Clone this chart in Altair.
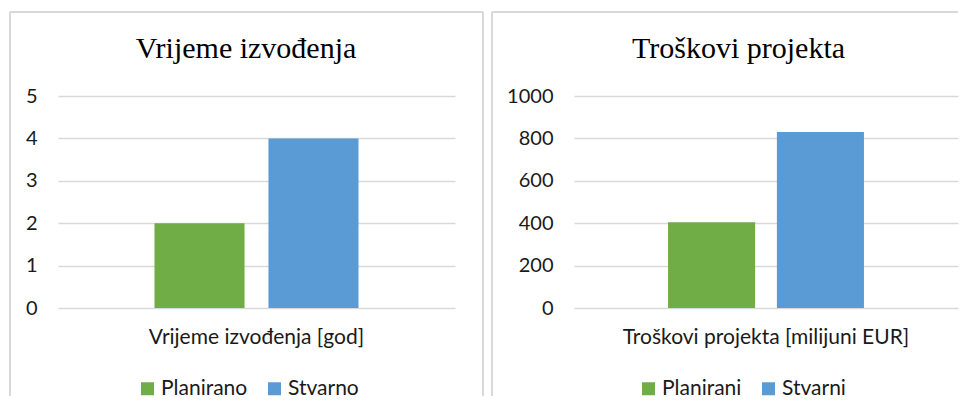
import altair as alt
import pandas as pd

# ---- data ----
left_title = "Vrijeme izvođenja"
left_category = "Vrijeme izvođenja [god]"
left_series = ["Planirano", "Stvarno"]
left_values = [2, 4]
left_ticks = [0, 1, 2, 3, 4, 5]

right_title = "Troškovi projekta"
right_category = "Troškovi projekta [milijuni EUR]"
right_series = ["Planirani", "Stvarni"]
right_values = [405, 830]
right_ticks = [0, 200, 400, 600, 800, 1000]

colors = ["#70ad47", "#5b9bd5"]

SANS = "Lato"
SERIF = "Liberation Serif"
TXT = "#1a1a1a"
GRID = "#d9d9d9"
H = 212
FS = 20


def panel(title, category, series, values, ticks, w, po, pi, legend_x,
          title_x, border_left, border_right, draw_right_side):
    df = pd.DataFrame({"cat": [category] * len(series), "series": series, "value": values})
    bars = alt.Chart(df).mark_bar().encode(
        x=alt.X("cat:N", title=None,
                scale=alt.Scale(paddingInner=0, paddingOuter=po),
                axis=alt.Axis(labelAngle=0, domain=False, ticks=False, grid=False,
                              labelFont=SANS, labelFontSize=21, labelColor=TXT,
                              labelLimit=0, labelPadding=18)),
        xOffset=alt.XOffset("series:N", sort=series,
                            scale=alt.Scale(paddingInner=pi, paddingOuter=0)),
        y=alt.Y("value:Q", title=None,
                scale=alt.Scale(domain=[ticks[0], ticks[-1]], nice=False),
                axis=alt.Axis(values=ticks, format="d", domain=False, ticks=False, grid=True,
                              gridColor=GRID, gridWidth=1.5,
                              labelFont=SANS, labelFontSize=FS, labelColor=TXT,
                              labelPadding=21)),
        color=alt.Color("series:N", sort=series,
                        scale=alt.Scale(domain=series, range=colors),
                        legend=alt.Legend(orient="none", legendX=legend_x, legendY=282,
                                          direction="horizontal", title=None,
                                          symbolType="square", symbolSize=169,
                                          symbolStrokeWidth=0, labelFont=SANS,
                                          labelFontSize=21, labelColor=TXT,
                                          labelOffset=3, columnPadding=16)),
    )
    deco = pd.DataFrame({"k": [0]})
    ttl = alt.Chart(pd.DataFrame({"t": [title]})).mark_text(
        font=SERIF, fontSize=30, baseline="alphabetic", align="center", color="#000000"
    ).encode(x=alt.value(title_x), y=alt.value(-38), text="t:N")
    top = alt.Chart(deco).mark_rule(color=GRID, strokeWidth=2).encode(
        x=alt.value(border_left), x2=alt.value(border_right), y=alt.value(-84))
    lside = alt.Chart(deco).mark_rule(color=GRID, strokeWidth=2).encode(
        x=alt.value(border_left), y=alt.value(-84), y2=alt.value(300))
    layers = [top, lside]
    if draw_right_side:
        rside = alt.Chart(deco).mark_rule(color=GRID, strokeWidth=2).encode(
            x=alt.value(border_right), y=alt.value(-84), y2=alt.value(300))
        layers.append(rside)
    return alt.layer(*layers, bars, ttl).properties(width=w, height=H)


left = panel(left_title, left_category, left_series, left_values, left_ticks,
             397, 0.473, 0.21, 79, 188, -48, 425, True)
right = panel(right_title, right_category, right_series, right_values, right_ticks,
              384, 0.48, 0.2, 64, 164.5, -82, 384, False)

chart = alt.hconcat(left, right, spacing=119, bounds="flush").resolve_scale(
    x="independent", y="independent", xOffset="independent", color="independent"
).resolve_legend(color="independent").properties(
    padding={"left": 1, "top": 3, "right": 0, "bottom": 0}
).configure_view(stroke=None)

chart.save("out.html", embed_options={"renderer": "svg", "actions": False})
